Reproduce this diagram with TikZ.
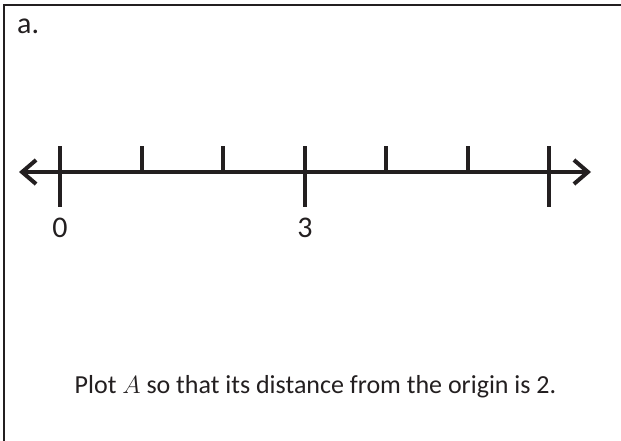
\documentclass[tikz,border=0pt]{standalone}
\usepackage{fontspec}
\setmainfont{Carlito}
\usepackage{xcolor}
\usepackage{tikz}
\usetikzlibrary{arrows.meta,positioning}
\definecolor{ink}{HTML}{231F20}

\begin{document}
\begin{tikzpicture}[x=1pt,y=-1pt, font=\fontsize{26}{30}\selectfont, color=ink,
    axisline/.style={line width=4pt, {Straight Barb[length=14pt,width=24pt]}-{Straight Barb[length=14pt,width=24pt]}},
    tick/.style={line width=4pt},
    ticklabel/.style={anchor=base, inner sep=0pt, font=\fontsize{30}{34}\selectfont}]
\useasboundingbox (0,0) rectangle (621,441);
% frame
\draw[line width=2pt] (4,441) -- (4,5) -- (621,5);
\node[anchor=base west, inner sep=0pt, font=\fontsize{30}{34}\selectfont] (part) at (17,34) {a.};
% number line
\coordinate (left) at (19,172);
\coordinate (right) at (591,172);
\draw[axisline] (left) -- (right);
\foreach \k in {0,...,6} {
  \coordinate (t\k) at ({60+81.5*\k},172);
  \draw[tick] (t\k) -- ++(0,-26);
}
\foreach \k in {0,3,6}
  \draw[tick] (t\k) -- ++(0,35);
\node[ticklabel] (zero) at (60,237) {0};
\node[ticklabel] (three) at (305,237) {3};
% task
\node[anchor=base, inner sep=0pt] (task) at (315.5,393)
  {Plot $A$ so that its distance from the origin is 2.};
\end{tikzpicture}
\end{document}
